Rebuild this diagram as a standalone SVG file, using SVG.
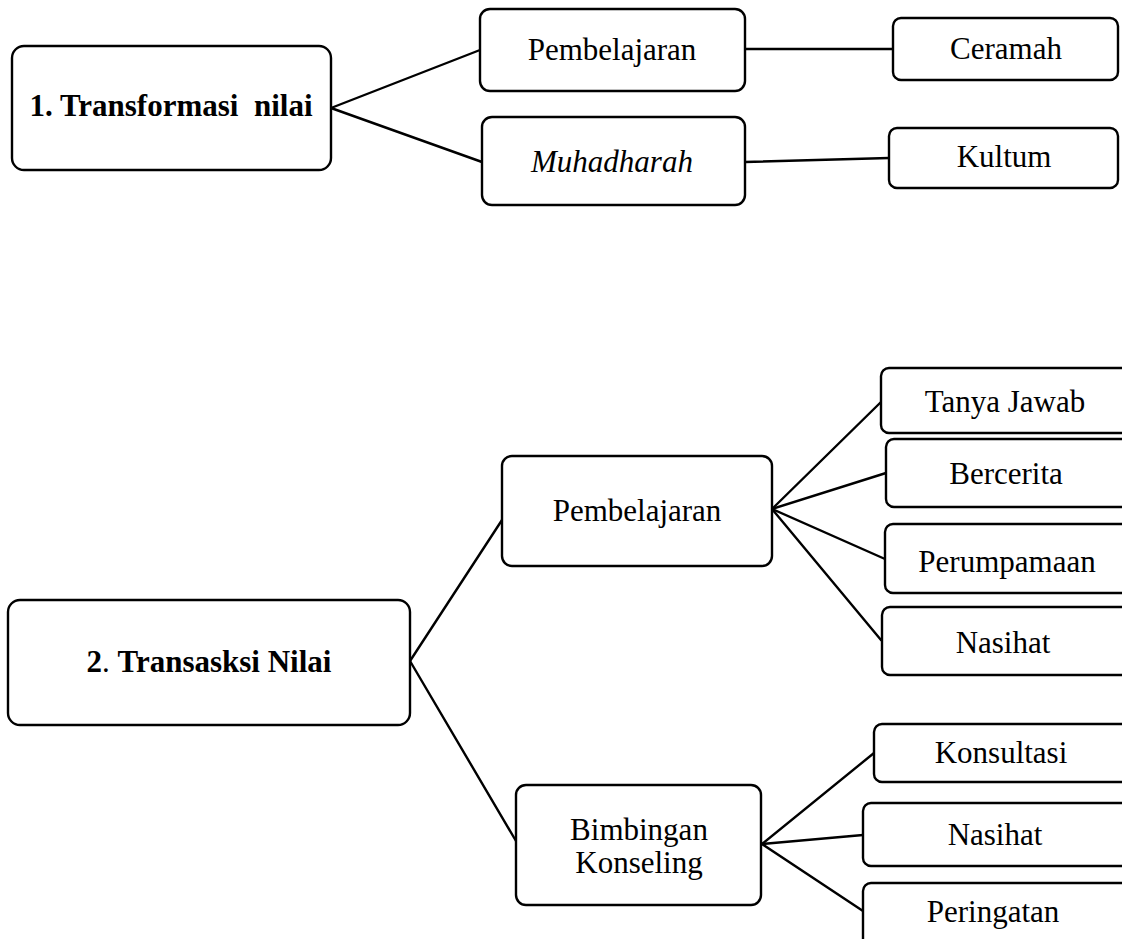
<svg xmlns="http://www.w3.org/2000/svg" width="1122" height="939" viewBox="0 0 1122 939">
<style>
rect{fill:#fff;stroke:#000;stroke-width:2.4}
text{font-family:"Liberation Serif","Times New Roman",serif;font-size:31px;fill:#000;text-anchor:middle}
.b{font-weight:bold}
.i{font-style:italic}
#connectors line{stroke:#000;stroke-width:2.4;stroke-linecap:round}
</style>
<rect x="0" y="0" width="1122" height="939" style="fill:#fff;stroke:none"/>
<g id="connectors">
<line x1="331" y1="108" x2="480" y2="50"/>
<line x1="331" y1="108" x2="482" y2="162"/>
<line x1="745" y1="49" x2="893" y2="49"/>
<line x1="745" y1="162" x2="889" y2="158"/>
<line x1="410" y1="661" x2="502" y2="520"/>
<line x1="410" y1="661" x2="516" y2="841"/>
<line x1="772" y1="509" x2="881" y2="402"/>
<line x1="772" y1="509" x2="886" y2="473"/>
<line x1="772" y1="509" x2="885" y2="559"/>
<line x1="772" y1="509" x2="881" y2="640"/>
<line x1="762" y1="844" x2="874" y2="753"/>
<line x1="762" y1="844" x2="863" y2="835"/>
<line x1="762" y1="844" x2="863" y2="911"/>
</g>
<g id="n1"><rect x="12" y="46" width="319" height="124" rx="12"/><text x="171" y="116" class="b" xml:space="preserve">1. Transformasi  nilai</text></g>
<g id="n1a"><rect x="480" y="9" width="265" height="82" rx="10"/><text x="612" y="60">Pembelajaran</text></g>
<g id="n1b"><rect x="482" y="117" width="263" height="88" rx="10"/><text x="612" y="172" class="i">Muhadharah</text></g>
<g id="n1a1"><rect x="893" y="18" width="225" height="62" rx="8"/><text x="1006" y="59">Ceramah</text></g>
<g id="n1b1"><rect x="889" y="128" width="229" height="60" rx="8"/><text x="1004" y="167">Kultum</text></g>
<g id="n2"><rect x="8" y="600" width="402" height="125" rx="12"/><text x="209" y="672"><tspan class="b">2</tspan>. <tspan class="b">Transasksi Nilai</tspan></text></g>
<g id="n2a"><rect x="502" y="456" width="270" height="110" rx="10"/><text x="637" y="521">Pembelajaran</text></g>
<g id="n2b"><rect x="516" y="785" width="245" height="120" rx="10"/><text x="639" y="840">Bimbingan</text><text x="639" y="873">Konseling</text></g>
<g id="n2a1"><rect x="881" y="368" width="260" height="65" rx="8"/><text x="1005" y="412">Tanya Jawab</text></g>
<g id="n2a2"><rect x="886" y="439" width="260" height="68" rx="8"/><text x="1006" y="484">Bercerita</text></g>
<g id="n2a3"><rect x="885" y="524" width="260" height="69" rx="8"/><text x="1007" y="572">Perumpamaan</text></g>
<g id="n2a4"><rect x="882" y="607" width="260" height="68" rx="8"/><text x="1003" y="653">Nasihat</text></g>
<g id="n2b1"><rect x="874" y="724" width="270" height="58" rx="8"/><text x="1001" y="763">Konsultasi</text></g>
<g id="n2b2"><rect x="863" y="803" width="280" height="63" rx="8"/><text x="995" y="845">Nasihat</text></g>
<g id="n2b3"><rect x="863" y="883" width="280" height="80" rx="8"/><text x="993" y="922">Peringatan</text></g>
</svg>
